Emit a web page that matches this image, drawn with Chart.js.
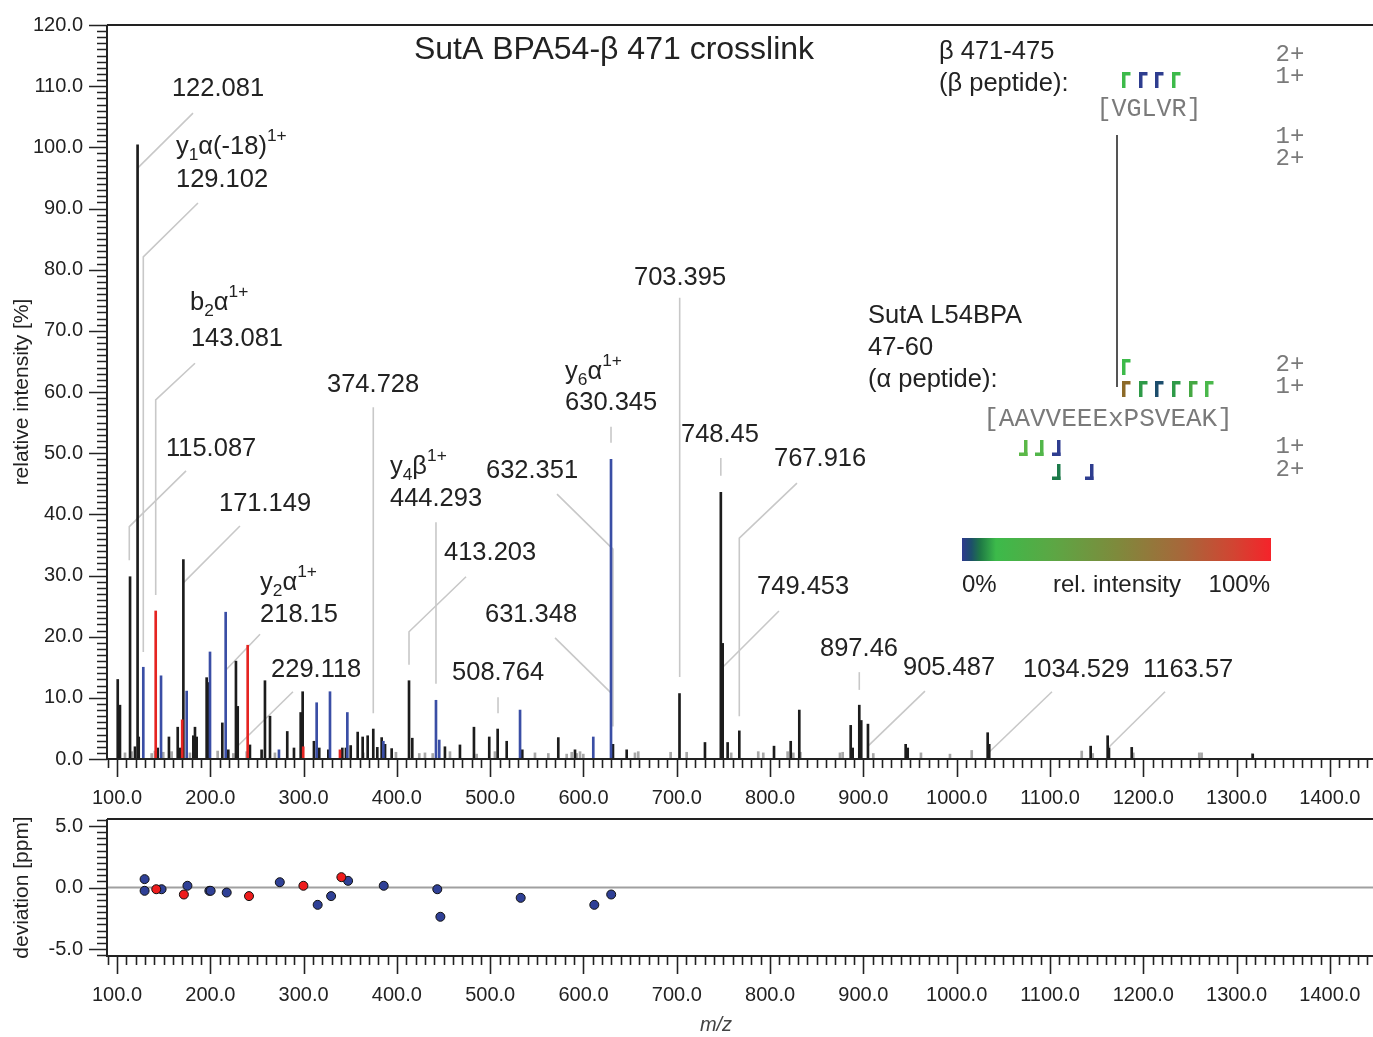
<!DOCTYPE html>
<html>
<head>
<meta charset="utf-8">
<script src="https://cdn.jsdelivr.net/npm/chart.js@4.4.0/dist/chart.umd.min.js"></script>
<style>
  body { margin: 0; background: #fff; }
  #wrap { position: relative; width: 1373px; height: 1037px; }
  .box { position: absolute; left: 0; }
</style>
</head>
<body>
<div id="wrap">
  <div class="box" style="top:0"><canvas id="spec" width="1373" height="810"></canvas></div>
  <div class="box" style="top:810px"><canvas id="dev" width="1373" height="227"></canvas></div>
</div>
<script>
// ── peaks: m/z and relative intensity [%] ─────────────────────────────
const blackMz  = [100.8, 103.2, 114.0, 119.3, 122.081, 123.3, 143.6, 155.7, 165.1, 167.5, 171.149, 181.8, 183.6, 185.4,
                  196.1, 197.9, 212.9, 219.3, 227.5, 229.4, 242.5, 255.0, 258.6, 264.0, 282.5, 289.7, 296.9, 299.0,
                  311.1, 316.8, 326.5, 341.5, 345.4, 350.5, 358.0, 363.3, 368.7, 374.7, 379.0, 383.7, 387.3, 394.4,
                  413.0, 416.5, 451.5, 467.6, 482.6, 499.0, 508.0, 517.7, 534.4, 573.0, 590.9, 631.6, 646.3, 702.9,
                  730.2, 747.2, 749.2, 754.5, 767.0, 804.2, 822.1, 831.3, 886.4, 888.5, 895.6, 897.7, 904.9, 945.3,
                  947.5, 1033.2, 1034.9, 1143.6, 1161.8, 1163.2, 1187.6, 1317.3];
const blackInt = [13.0, 8.8, 29.8, 2.0, 100.4, 3.6, 1.8, 3.6, 5.2, 1.8, 32.6, 3.8, 5.2, 3.6,
                  13.3, 12.5, 5.9, 1.5, 16.0, 8.6, 2.3, 1.5, 12.8, 7.0, 4.5, 1.8, 7.6, 11.0,
                  2.9, 1.8, 1.5, 1.8, 1.8, 2.2, 4.4, 3.6, 3.8, 4.9, 1.9, 3.5, 2.4, 1.7,
                  12.8, 3.4, 2.0, 2.3, 5.2, 3.6, 4.9, 2.9, 1.5, 3.5, 1.5, 2.4, 1.5, 10.7,
                  2.7, 43.6, 18.9, 2.7, 4.6, 2.1, 2.9, 8.0, 5.5, 1.8, 8.8, 6.3, 5.7, 2.4,
                  1.8, 4.3, 2.4, 2.1, 3.8, 1.8, 1.9, 0.8];
const blueMz   = [128.2, 147.2, 174.7, 199.7, 216.5, 273.6, 314.0, 328.3, 346.9, 385.5, 441.9, 445.4, 532.0, 610.5, 629.5];
const blueInt  = [15.0, 13.6, 11.1, 17.5, 24.0, 1.5, 9.2, 11.0, 7.6, 2.9, 9.6, 3.1, 8.0, 3.6, 49.0];
const redMz    = [141.5, 169.9, 240.1, 299.6, 339.0];
const redInt   = [24.2, 6.4, 18.6, 2.0, 1.5];
const grayMz   = [108.6, 115.8, 137.2, 140.7, 149.6, 158.6, 178.2, 207.9, 219.0, 224.7, 239.0, 269.3, 364.0, 399.0,
                  424.0, 430.1, 438.4, 456.9, 485.5, 505.1, 548.0, 562.3, 582.0, 587.4, 592.7, 596.3, 599.8, 655.2,
                  658.7, 693.4, 710.6, 758.3, 787.3, 792.7, 818.8, 824.9, 832.5, 874.9, 877.8, 910.6, 961.7, 992.8,
                  1016.1, 1134.0, 1145.8, 1189.3, 1260.0, 1262.5, 1317.0];
const grayInt  = [1.0, 1.2, 0.9, 1.3, 1.1, 1.2, 1.0, 1.3, 1.2, 0.9, 1.2, 1.0, 1.0, 1.1,
                  0.9, 1.0, 0.9, 1.2, 0.8, 1.2, 1.0, 0.9, 0.8, 1.1, 0.9, 1.2, 0.8, 1.0,
                  1.2, 1.1, 1.1, 1.0, 1.2, 1.0, 1.2, 1.0, 1.1, 1.0, 1.1, 0.9, 1.0, 0.8,
                  1.4, 1.3, 0.9, 1.0, 1.0, 1.0, 0.9];

// ── mass deviation [ppm] of the matched fragments ─────────────────────
const devBlueMz = [129.6, 129.6, 147.8, 175.5, 199.0, 200.4, 217.6, 274.5, 315.1, 329.5, 347.7, 385.9, 443.3, 446.6, 532.7, 611.6, 629.7];
const devBlue   = [0.68, -0.27, -0.14, 0.14, -0.27, -0.27, -0.41, 0.43, -1.41, -0.70, 0.54, 0.14, -0.14, -2.38, -0.84, -1.41, -0.57];
const devRedMz  = [142.1, 171.7, 241.5, 299.8, 340.5];
const devRed    = [-0.14, -0.57, -0.70, 0.14, 0.84];

// ── axes ─────────────────────────────────────────────────────────────
const xTicks   = [100, 200, 300, 400, 500, 600, 700, 800, 900, 1000, 1100, 1200, 1300, 1400];
const yTicks   = [0, 10, 20, 30, 40, 50, 60, 70, 80, 90, 100, 110, 120];
const devTicks = [-5, 0, 5];

// ── peak labels: text lines, where each line sits (m/z, %), leader path ──
const peakLabels = [
  { text: [[['122.081']]], pos: [[158.9, 109.5]], leader: [[122.1, 96.6], [181.5, 105.6]] },
  { text: [[['y'], ['1', 'sub'], ['α(-18)'], ['1+', 'sup']], [['129.102']]], pos: [[163.2, 100.0], [163.2, 94.7]],
    leader: [[128.2, 17.5], [128.2, 82.1], [186.8, 90.9]] },
  { text: [[['b'], ['2', 'sub'], ['α'], ['1+', 'sup']], [['143.081']]], pos: [[178.2, 74.5], [179.2, 68.7]],
    leader: [[141.5, 26.8], [141.5, 58.7], [183.6, 64.7]] },
  { text: [[['115.087']]], pos: [[152.5, 50.7]], leader: [[113.2, 32.5], [113.2, 38.0], [174.0, 47.1]] },
  { text: [[['171.149']]], pos: [[209.3, 41.7]], leader: [[171.1, 28.8], [231.8, 38.1]] },
  { text: [[['y'], ['2', 'sub'], ['α'], ['1+', 'sup']], [['218.15']]], pos: [[253.3, 28.8], [253.3, 23.5]],
    leader: [[216.5, 14.5], [253.3, 20.4]] },
  { text: [[['229.118']]], pos: [[265.1, 14.5]], leader: [[227.2, 1.8], [288.6, 11.0]] },
  { text: [[['374.728']]], pos: [[325.1, 61.1]], leader: [[374.7, 7.5], [374.7, 57.5]] },
  { text: [[['y'], ['4', 'sub'], ['β'], ['1+', 'sup']], [['444.293']]], pos: [[392.6, 47.7], [392.6, 42.5]],
    leader: [[441.9, 12.3], [441.9, 38.7]] },
  { text: [[['413.203']]], pos: [[450.5, 33.7]], leader: [[413.0, 15.4], [413.0, 20.8], [474.1, 29.8]] },
  { text: [[['632.351']]], pos: [[495.5, 47.1]], leader: [[571.6, 43.3], [631.6, 34.3], [631.6, 5.3]] },
  { text: [[['631.348']]], pos: [[494.4, 23.5]], leader: [[569.5, 19.8], [629.5, 10.8]] },
  { text: [[['508.764']]], pos: [[459.1, 14.1]], leader: [[508.4, 10.1], [508.4, 7.5]] },
  { text: [[['y'], ['6', 'sub'], ['α'], ['1+', 'sup']], [['630.345']]], pos: [[580.2, 63.3], [580.2, 58.2]],
    leader: [[629.5, 54.3], [629.5, 51.7]] },
  { text: [[['703.395']]], pos: [[654.1, 78.6]], leader: [[703.1, 75.4], [703.1, 13.4]] },
  { text: [[['748.45']]], pos: [[704.5, 53.0]], leader: [[747.2, 49.2], [747.2, 46.3]] },
  { text: [[['767.916']]], pos: [[804.2, 49.0]], leader: [[767.0, 7.0], [767.0, 36.1], [828.8, 45.1]] },
  { text: [[['749.453']]], pos: [[786.0, 28.1]], leader: [[749.2, 15.0], [809.5, 24.2]] },
  { text: [[['897.46']]], pos: [[853.5, 18.0]], leader: [[895.6, 14.2], [895.6, 11.3]] },
  { text: [[['905.487']]], pos: [[942.4, 14.9]], leader: [[904.9, 2.1], [966.0, 11.1]] },
  { text: [[['1034.529']]], pos: [[1071.1, 14.5]], leader: [[1034.6, 1.1], [1102.1, 11.0]] },
  { text: [[['1163.57']]], pos: [[1199.7, 14.5]], leader: [[1162.2, 1.8], [1223.3, 11.0]] },
];

// Colours
const INK   = "#222222";
const BLACK = "#1c1c1c";
const BLUE  = "#3a4ea5";
const RED   = "#e52421";
const GRAY  = "#a8a8a8";
const LEAD  = "#c8c8c8";
const SANS  = '"Liberation Sans", Arial, sans-serif';
const MONO  = '"Liberation Mono", "Courier New", monospace';

const X_MIN = 89.3, X_MAX = 1446.2;

function zipXY(xs, ys) { return xs.map((x, i) => ({ x, y: ys[i] })); }

function peakSet(label, xs, ys, color, order) {
  return { label, data: zipXY(xs, ys), backgroundColor: color, borderWidth: 0,
           barThickness: 2, grouped: false, order };
}

function drawRich(ctx, segs, x, y, size) {
  let cx = x;
  for (const [txt, kind] of segs) {
    const s  = kind ? size * 0.68 : size;
    const dy = kind === "sub" ? size * 0.32 : kind === "sup" ? -size * 0.42 : 0;
    ctx.font = `${s}px ${SANS}`;
    ctx.fillText(txt, cx, y + dy);
    cx += ctx.measureText(txt).width;
  }
}

// axis lines, frame and minor ticks (shared by both panels)
function drawFrame(chart, yStep, yMajor) {
  const { ctx, chartArea: a, scales: { x, y } } = chart;
  ctx.save();
  ctx.strokeStyle = INK;
  ctx.lineWidth = 2;
  ctx.beginPath();
  ctx.moveTo(a.left, a.top); ctx.lineTo(a.right, a.top);
  ctx.moveTo(a.left, a.top); ctx.lineTo(a.left, a.bottom + 1);
  ctx.moveTo(a.left - 1, a.bottom); ctx.lineTo(a.right, a.bottom);
  ctx.stroke();
  ctx.lineWidth = 1.6;
  ctx.beginPath();
  for (let v = 90; v <= 1440; v += 10) {
    const px = Math.round(x.getPixelForValue(v)) + 0.5;
    const len = v % 100 === 0 ? 18 : 9;
    ctx.moveTo(px, a.bottom); ctx.lineTo(px, a.bottom + len);
  }
  const n = Math.round((y.max - y.min) / yStep) + 2;
  const start = Math.ceil(y.min / yStep) * yStep;
  for (let k = 0; k < n; k++) {
    const v = start + k * yStep;
    if (v > y.max + 1e-6) break;
    const py = Math.round(y.getPixelForValue(v)) + 0.5;
    const major = Math.abs(v / yMajor - Math.round(v / yMajor)) < 1e-6;
    ctx.moveTo(a.left, py); ctx.lineTo(a.left - (major ? 18 : 10), py);
  }
  ctx.stroke();
  ctx.restore();
}

const spectrumDecor = {
  id: "spectrumDecor",
  beforeDatasetsDraw(chart) {
    const { ctx, scales: { x, y } } = chart;
    ctx.save();
    ctx.strokeStyle = LEAD;
    ctx.lineWidth = 1.6;
    for (const lab of peakLabels) {
      ctx.beginPath();
      lab.leader.forEach(([m, i], k) => {
        const px = x.getPixelForValue(m), py = y.getPixelForValue(i);
        if (k) ctx.lineTo(px, py); else ctx.moveTo(px, py);
      });
      ctx.stroke();
    }
    ctx.restore();
  },
  afterDraw(chart) {
    const { ctx, scales: { x, y } } = chart;
    drawFrame(chart, 1, 10);
    ctx.save();
    ctx.fillStyle = INK;
    ctx.textBaseline = "middle";
    ctx.textAlign = "left";
    for (const lab of peakLabels) {
      lab.text.forEach((segs, k) => {
        const [m, i] = lab.pos[k];
        drawRich(ctx, segs, x.getPixelForValue(m), y.getPixelForValue(i), 25.5);
      });
    }

    // title
    ctx.textAlign = "center";
    ctx.font = `32px ${SANS}`;
    ctx.fillText("SutA BPA54-β 471 crosslink", 614, 50);

    // peptide descriptions
    ctx.textAlign = "left";
    ctx.font = `25.5px ${SANS}`;
    ctx.fillText("β 471-475", 939, 52);
    ctx.fillText("(β peptide):", 939, 84);
    ctx.fillText("SutA L54BPA", 868, 316);
    ctx.fillText("47-60", 868, 348);
    ctx.fillText("(α peptide):", 868, 380);

    // sequences
    ctx.fillStyle = "#7a7a7a";
    ctx.textAlign = "center";
    ctx.font = `25px ${MONO}`;
    ctx.fillText("[VGLVR]", 1149, 109);
    ctx.font = `26px ${MONO}`;
    ctx.fillText("[AAVVEEExPSVEAK]", 1108, 419);
    ctx.font = `24px ${MONO}`;
    [["2+", 55], ["1+", 77], ["1+", 137], ["2+", 159], ["2+", 365], ["1+", 387], ["1+", 447], ["2+", 470]]
      .forEach(([t, yy]) => ctx.fillText(t, 1290, yy));

    // crosslink line
    ctx.strokeStyle = "#555";
    ctx.lineWidth = 2;
    ctx.beginPath(); ctx.moveTo(1117, 135); ctx.lineTo(1117, 387); ctx.stroke();

    // fragment markers
    const nTerm = (px, py, c) => { ctx.fillStyle = c; ctx.fillRect(px, py, 3.5, 16); ctx.fillRect(px, py, 8.5, 3.5); };
    const cTerm = (px, py, c) => { ctx.fillStyle = c; ctx.fillRect(px + 5, py, 3.5, 16); ctx.fillRect(px, py + 12.5, 8.5, 3.5); };
    [[1122, "#3dba4a"], [1139, "#2e3d8f"], [1155, "#2e3d8f"], [1172, "#3dba4a"]].forEach(([px, c]) => nTerm(px, 72, c));
    nTerm(1122, 359, "#3dba4a");
    [[1122, "#8c6a28"], [1139, "#2e9a48"], [1155, "#1c4d6c"], [1172, "#2e9a48"], [1189, "#45a843"], [1205, "#4ab84b"]]
      .forEach(([px, c]) => nTerm(px, 381, c));
    [[1019, "#5bb848"], [1035, "#52b64a"], [1052, "#2e3d8f"]].forEach(([px, c]) => cTerm(px, 440, c));
    [[1052, "#1c7a4a"], [1085, "#2e3d8f"]].forEach(([px, c]) => cTerm(px, 464, c));

    // intensity colour bar
    const g = ctx.createLinearGradient(962, 0, 1271, 0);
    g.addColorStop(0.00, "#2e3a8e");
    g.addColorStop(0.03, "#1d4f6a");
    g.addColorStop(0.06, "#1f7a45");
    g.addColorStop(0.11, "#3cba4a");
    g.addColorStop(0.30, "#5da644");
    g.addColorStop(0.50, "#7e8a3c");
    g.addColorStop(0.72, "#a8663a");
    g.addColorStop(0.88, "#d24432");
    g.addColorStop(1.00, "#f5232a");
    ctx.fillStyle = g;
    ctx.fillRect(962, 538, 309, 23);
    ctx.fillStyle = INK;
    ctx.font = `24px ${SANS}`;
    ctx.textAlign = "left";   ctx.fillText("0%", 962, 585);
    ctx.textAlign = "center"; ctx.fillText("rel. intensity", 1117, 585);
    ctx.textAlign = "right";  ctx.fillText("100%", 1270, 585);
    ctx.restore();
  }
};

const deviationDecor = {
  id: "deviationDecor",
  beforeDatasetsDraw(chart) {
    const { ctx, chartArea: a, scales: { y } } = chart;
    const py = y.getPixelForValue(0);
    ctx.save();
    ctx.strokeStyle = "#a0a0a0";
    ctx.lineWidth = 2;
    ctx.beginPath(); ctx.moveTo(a.left, py); ctx.lineTo(a.right, py); ctx.stroke();
    ctx.restore();
  },
  afterDraw(chart) {
    const { ctx } = chart;
    drawFrame(chart, 0.5, 5);
    ctx.save();
    ctx.fillStyle = "#444";
    ctx.font = `italic 20px ${SANS}`;
    ctx.textAlign = "center";
    ctx.textBaseline = "middle";
    ctx.fillText("m/z", 716, 215);
    ctx.restore();
  }
};

const tickFont = { family: SANS, size: 20 };
const xAxis = (height, pad) => ({
  type: "linear", min: X_MIN, max: X_MAX, offset: false,
  grid: { display: false, drawTicks: false }, border: { display: false },
  afterBuildTicks: s => { s.ticks = xTicks.map(v => ({ value: v })); },
  afterFit: s => { s.height = height; s.paddingLeft = 0; s.paddingRight = 0; },
  ticks: { padding: pad, font: tickFont, color: INK, maxRotation: 0, autoSkip: false,
           callback: v => v.toFixed(1) }
});
const yAxis = (min, max, ticks, title) => ({
  min, max,
  grid: { display: false, drawTicks: false }, border: { display: false },
  afterBuildTicks: s => { s.ticks = ticks.map(v => ({ value: v })); },
  afterFit: s => { s.width = 107; s.paddingTop = 0; s.paddingBottom = 0; },
  ticks: { padding: 24, font: tickFont, color: INK, callback: v => v.toFixed(1) },
  title: { display: true, text: title, color: INK,
           font: { family: SANS, size: 21 }, padding: { top: 10, bottom: 0 } }
});

new Chart(document.getElementById("spec"), {
  type: "bar",
  data: {
    datasets: [
      peakSet("α fragments", redMz, redInt, RED, 0),
      peakSet("β fragments", blueMz, blueInt, BLUE, 1),
      peakSet("other peaks", blackMz, blackInt, BLACK, 2),
      peakSet("unmatched", grayMz, grayInt, GRAY, 3),
    ]
  },
  options: {
    responsive: false, animation: false,
    layout: { autoPadding: false, padding: { top: 25, right: 0, left: 0, bottom: 0 } },
    plugins: { legend: { display: false }, tooltip: { enabled: false } },
    scales: {
      x: xAxis(51, 27),
      y: yAxis(0, 120, yTicks, "relative intensity [%]")
    }
  },
  plugins: [spectrumDecor]
});

new Chart(document.getElementById("dev"), {
  type: "scatter",
  data: {
    datasets: [
      { label: "α", data: zipXY(devRedMz, devRed), backgroundColor: "#ee1c1c", borderColor: "#111",
        borderWidth: 1, pointRadius: 4.5, order: 0 },
      { label: "β", data: zipXY(devBlueMz, devBlue), backgroundColor: "#2f4096", borderColor: "#111",
        borderWidth: 1, pointRadius: 4.5, order: 1 },
    ]
  },
  options: {
    responsive: false, animation: false,
    layout: { autoPadding: false, padding: { top: 9, right: 0, left: 0, bottom: 0 } },
    plugins: { legend: { display: false }, tooltip: { enabled: false } },
    scales: {
      x: xAxis(81, 27),
      y: yAxis(-5.57, 5.57, devTicks, "deviation [ppm]")
    }
  },
  plugins: [deviationDecor]
});
</script>
</body>
</html>
